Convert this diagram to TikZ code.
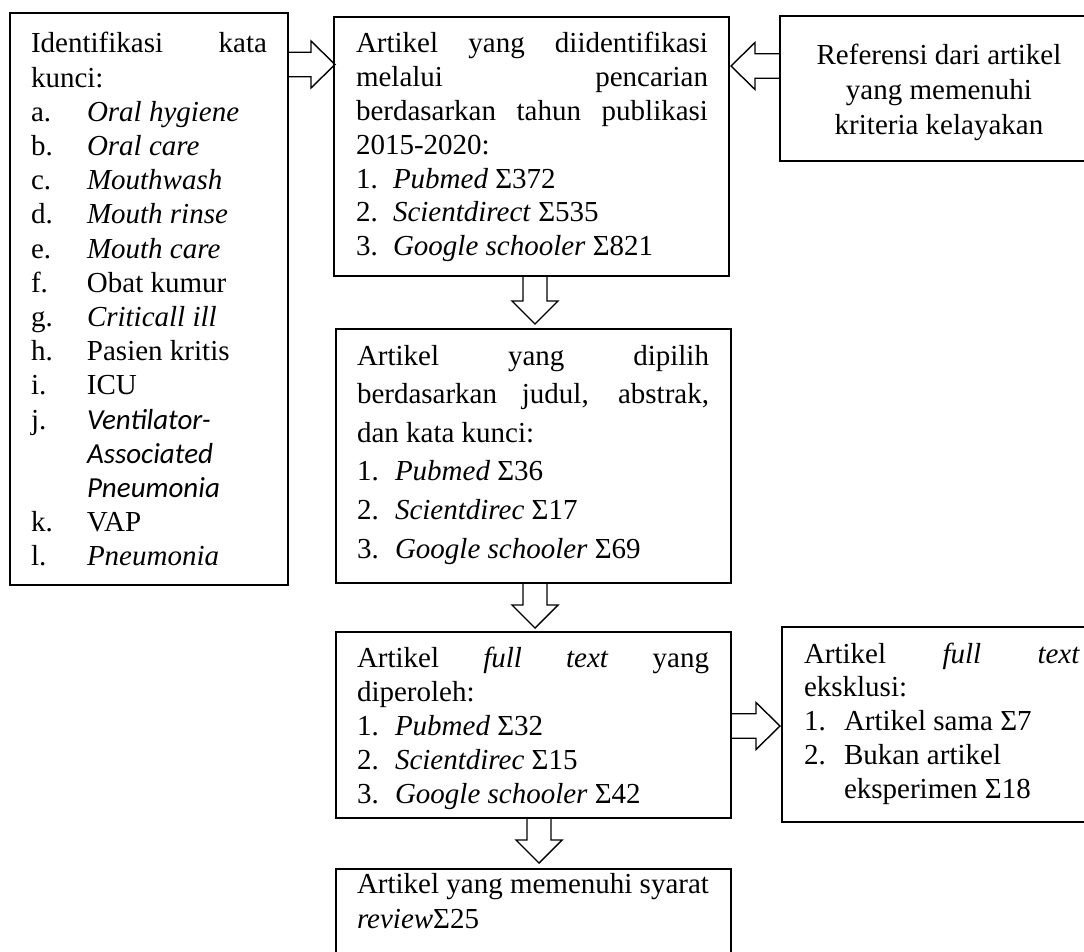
\documentclass[tikz,border=0pt]{standalone}
\usepackage{fontspec}
\setmainfont{Liberation Serif}
\newfontfamily\carlito{Carlito}
\usetikzlibrary{calc}
\tikzset{
  box/.style={draw, line width=1.4pt, rectangle, anchor=north west, inner sep=0pt, outer sep=0pt},
  txt/.style={inner sep=0pt, outer sep=0pt, anchor=base west},
  barrow/.style={draw, line width=1.4pt, line join=miter},
}
\newcommand\Lbl[2]{\makebox[#1][l]{#2}}
\newcommand\Jline[1]{\makebox[\linewidth][s]{#1}}
% horizontal block arrow: #1 start point, #2 point giving tip x
\newcommand\harr[2]{\draw[barrow] let \p1=#1, \p2=#2, \n1={sign(\x2-\x1)} in
  (\x1,{\y1+12.25pt}) -- ({\x2-(\n1)*24pt},{\y1+12.25pt}) -- ({\x2-(\n1)*24pt},{\y1+23.5pt})
  -- (\x2,\y1) -- ({\x2-(\n1)*24pt},{\y1-23.5pt}) -- ({\x2-(\n1)*24pt},{\y1-12.25pt})
  -- (\x1,{\y1-12.25pt}) -- cycle;}
% vertical block arrow
\newcommand\varr[2]{\draw[barrow] let \p1=#1, \p2=#2, \n1={sign(\y2-\y1)} in
  ({\x1+12pt},\y1) -- ({\x1+12pt},{\y2-(\n1)*23pt}) -- ({\x1+23pt},{\y2-(\n1)*23pt})
  -- (\x1,\y2) -- ({\x1-23pt},{\y2-(\n1)*23pt}) -- ({\x1-12pt},{\y2-(\n1)*23pt})
  -- ({\x1-12pt},\y1) -- cycle;}
\begin{document}
\begin{tikzpicture}[x=1pt,y=-1pt]
\useasboundingbox (0,0) rectangle (1084,952);
\clip (0,0) rectangle (1084,952);

% boxes
\node[box, minimum width=278pt, minimum height=572pt] (b0) at (10,13) {};
\node[box, minimum width=395pt, minimum height=259pt] (b1) at (334,17) {};
\node[box, minimum width=318pt, minimum height=145pt] (br) at (780,16) {};
\node[box, minimum width=395pt, minimum height=254pt] (b2) at (336,329) {};
\node[box, minimum width=395pt, minimum height=186pt] (b3) at (336,632) {};
\node[box, minimum width=318pt, minimum height=195pt] (bx) at (782,627) {};
\node[box, minimum width=395pt, minimum height=110pt] (b4) at (336,869) {};

% texts
\node[txt] (t0) at (31,53) {\parbox[t]{236pt}{\fontsize{29}{34.2}\selectfont\lineskiplimit=-100pt
\Jline{Identifikasi kata}\\
kunci:\\
\Lbl{56pt}{a.}\textit{Oral hygiene}\\
\Lbl{56pt}{b.}\textit{Oral care}\\
\Lbl{56pt}{c.}\textit{Mouthwash}\\
\Lbl{56pt}{d.}\textit{Mouth rinse}\\
\Lbl{56pt}{e.}\textit{Mouth care}\\
\Lbl{56pt}{f.}Obat kumur\\
\Lbl{56pt}{g.}\textit{Criticall ill}\\
\Lbl{56pt}{h.}Pasien kritis\\
\Lbl{56pt}{i.}ICU\\
\Lbl{56pt}{j.}{\carlito\itshape Ventilator-}\\
\Lbl{56pt}{}{\carlito\itshape Associated}\\
\Lbl{56pt}{}{\carlito\itshape Pneumonia}\\
\Lbl{56pt}{k.}VAP\\
\Lbl{56pt}{l.}\textit{Pneumonia}}};

\node[txt] (t1) at (356,53) {\parbox[t]{352pt}{\fontsize{29}{33.8}\selectfont\lineskiplimit=-100pt
\Jline{Artikel yang diidentifikasi}\\
\Jline{melalui pencarian}\\
\Jline{berdasarkan tahun publikasi}\\
2015-2020:\\
\Lbl{37pt}{1.}\textit{Pubmed} Σ372\\
\Lbl{37pt}{2.}\textit{Scientdirect} Σ535\\
\Lbl{37pt}{3.}\textit{Google schooler} Σ821}};

\node[inner sep=0pt, anchor=base] (tr) at (939,65) {\parbox[t]{300pt}{\centering\fontsize{29}{35}\selectfont\lineskiplimit=-100pt
Referensi dari artikel\\
yang memenuhi\\
kriteria kelayakan}};

\node[txt] (t2) at (357,365) {\parbox[t]{352pt}{\fontsize{29}{38.6}\selectfont\lineskiplimit=-100pt
\Jline{Artikel yang dipilih}\\
\Jline{berdasarkan judul, abstrak,}\\
dan kata kunci:\\
\Lbl{38pt}{1.}\textit{Pubmed} Σ36\\
\Lbl{38pt}{2.}\textit{Scientdirec} Σ17\\
\Lbl{38pt}{3.}\textit{Google schooler} Σ69}};

\node[txt] (t3) at (357,667) {\parbox[t]{352pt}{\fontsize{29}{34}\selectfont\lineskiplimit=-100pt
\Jline{Artikel \textit{full} \textit{text} yang}\\
diperoleh:\\
\Lbl{38pt}{1.}\textit{Pubmed} Σ32\\
\Lbl{38pt}{2.}\textit{Scientdirec} Σ15\\
\Lbl{38pt}{3.}\textit{Google schooler} Σ42}};

\node[txt] (tx) at (804,663) {\parbox[t]{276pt}{\fontsize{29}{33.8}\selectfont\lineskiplimit=-100pt
\Jline{Artikel \textit{full} \textit{text}}\\
eksklusi:\\
\Lbl{40pt}{1.}Artikel sama Σ7\\
\Lbl{40pt}{2.}Bukan artikel\\
\Lbl{40pt}{}eksperimen Σ18}};

\node[txt] (t4) at (357,893) {\parbox[t]{352pt}{\fontsize{29}{35}\selectfont\lineskiplimit=-100pt
Artikel yang memenuhi syarat\\
\textit{review}Σ25}};

% block arrows
\harr{($(b0.north east)+(0,51.5)$)}{($(b1.west)+(1,0)$)}
\harr{($(br.north west)+(0,50)$)}{($(b1.east)+(2,0)$)}
\varr{($(b1.south)+(3.5,0)$)}{($(b2.north)+(0,-5)$)}
\varr{($(b2.south)+(1.5,0)$)}{($(b3.north)+(0,-4)$)}
\varr{($(b3.south)+(5.5,0)$)}{($(b4.north)+(0,-6)$)}
\harr{($(b3.north east)+(0,94)$)}{($(bx.west)+(-2,0)$)}
\end{tikzpicture}
\end{document}
